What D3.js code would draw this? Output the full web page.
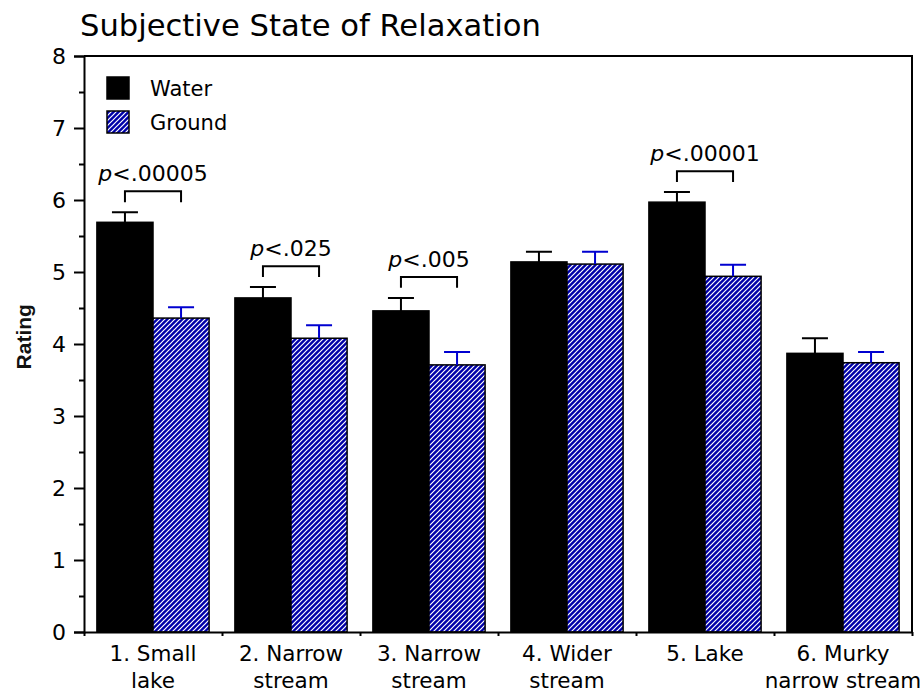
<!DOCTYPE html>
<html>
<head>
<meta charset="utf-8">
<script src="https://cdn.jsdelivr.net/npm/d3@7"></script>
<style>
  body { margin: 0; background: #fff; }
  svg { display: block; font-family: "DejaVu Sans", Verdana, sans-serif; }
</style>
</head>
<body>
<div id="chart"></div>
<script>
// datos
const categories = [["1. Small", "lake"], ["2. Narrow", "stream"], ["3. Narrow", "stream"],
                    ["4. Wider", "stream"], ["5. Lake"], ["6. Murky", "narrow stream"]];
const series = ["Water", "Ground"];
const waterMean = [5.69, 4.64, 4.46, 5.14, 5.97, 3.87];
const waterErr = [0.14, 0.15, 0.18, 0.14, 0.14, 0.21];
const groundMean = [4.36, 4.08, 3.71, 5.11, 4.94, 3.74];
const groundErr = [0.15, 0.18, 0.18, 0.17, 0.16, 0.15];
const sigLabels = ["<.00005", "<.025", "<.005", null, "<.00001", null];
const sigLevel = [6.12, 5.08, 4.93, null, 6.40, null];
const yTicks = [0, 1, 2, 3, 4, 5, 6, 7, 8];

const width = 924, height = 695;
const margin = {top: 56, right: 12, bottom: 63, left: 84};

const svg = d3.select('#chart').append('svg')
    .attr('width', width)
    .attr('height', height);

// patrón de rayas para Ground
const defs = svg.append('defs');
const pat = defs.append('pattern')
    .attr('id', 'hatch')
    .attr('patternUnits', 'userSpaceOnUse')
    .attr('width', 5)
    .attr('height', 5);
pat.append('rect').attr('width', 5).attr('height', 5).attr('fill', '#0000a8');
pat.append('path')
    .attr('d', 'M-1,1 l2,-2 M0,5 l5,-5 M4,6 l2,-2')
    .attr('stroke', '#fff')
    .attr('stroke-width', 1.2);

const x = d3.scaleBand()
    .domain(d3.range(categories.length))
    .range([margin.left, width - margin.right]);

const xInner = d3.scaleBand()
    .domain(series)
    .range([0, x.bandwidth()])
    .paddingOuter(0.23);

const y = d3.scaleLinear()
    .domain([0, 8])
    .range([height - margin.bottom, margin.top]);

const data = categories.map(function(c, i) {
    return [
        {cat: i, key: 'Water', v: waterMean[i], e: waterErr[i]},
        {cat: i, key: 'Ground', v: groundMean[i], e: groundErr[i]}
    ];
});

// título
svg.append('text')
    .attr('x', 80)
    .attr('y', 36)
    .attr('font-size', 30.6)
    .text('Subjective State of Relaxation');

// barras
const groups = svg.selectAll('.grp')
    .data(data)
    .enter().append('g')
    .attr('class', 'grp')
    .attr('transform', function(d, i) { return 'translate(' + x(i) + ',0)'; });

groups.selectAll('rect')
    .data(function(d) { return d; })
    .enter().append('rect')
    .attr('x', function(d) { return xInner(d.key); })
    .attr('y', function(d) { return y(d.v); })
    .attr('width', xInner.bandwidth())
    .attr('height', function(d) { return y(0) - y(d.v); })
    .attr('fill', function(d) { return d.key == 'Water' ? '#000' : 'url(#hatch)'; })
    .attr('stroke', '#000')
    .attr('stroke-width', 1.5);

// barras de error
groups.selectAll('.err')
    .data(function(d) { return d; })
    .enter().append('path')
    .attr('class', 'err')
    .attr('fill', 'none')
    .attr('stroke', function(d) { return d.key == 'Water' ? '#000' : '#0000d0'; })
    .attr('stroke-width', 2)
    .attr('d', function(d) {
        let cx = xInner(d.key) + xInner.bandwidth() / 2;
        let top = y(d.v + d.e);
        return 'M' + cx + ',' + y(d.v) + 'V' + top + 'M' + (cx - 13) + ',' + top + 'H' + (cx + 13);
    });

// corchetes de significación
const legLen = y(0) - y(0.15);
categories.forEach(function(c, i) {
    if (!sigLabels[i]) return;
    let x1 = x(i) + xInner('Water') + xInner.bandwidth() / 2;
    let x2 = x(i) + xInner('Ground') + xInner.bandwidth() / 2;
    let yt = y(sigLevel[i]);
    svg.append('path')
        .attr('fill', 'none')
        .attr('stroke', '#000')
        .attr('stroke-width', 2)
        .attr('d', 'M' + x1 + ',' + (yt + legLen) + 'V' + yt + 'H' + x2 + 'V' + (yt + legLen));
    let t = svg.append('text')
        .attr('x', x(i) + x.bandwidth() / 2)
        .attr('y', yt - 10)
        .attr('text-anchor', 'middle')
        .attr('font-size', 22);
    t.append('tspan').attr('font-style', 'italic').text('p');
    t.append('tspan').text(sigLabels[i]);
});

// eje Y
const yAxis = svg.append('g')
    .attr('transform', 'translate(' + margin.left + ',0)')
    .call(d3.axisLeft(y).tickValues(yTicks).tickSize(10).tickPadding(8));
yAxis.attr('font-size', 22).attr('font-family', '"DejaVu Sans", sans-serif');
yAxis.select('.domain').attr('stroke-width', 2);
yAxis.selectAll('.tick line').attr('stroke-width', 2);

// marcas menores
svg.append('g')
    .attr('transform', 'translate(' + margin.left + ',0)')
    .call(d3.axisLeft(y).tickValues(d3.range(0.5, 8, 1)).tickSize(5).tickFormat(''))
    .call(function(g) { g.select('.domain').remove(); })
    .selectAll('.tick line').attr('stroke-width', 2);

// eje X
const xPos = d3.scaleLinear().domain([0, categories.length]).range([margin.left, width - margin.right]);
const xAxis = svg.append('g')
    .attr('transform', 'translate(0,' + y(0) + ')')
    .call(d3.axisBottom(xPos).tickValues(d3.range(0, categories.length + 1)).tickSize(4).tickSizeOuter(0).tickFormat(''));
xAxis.select('.domain').attr('stroke-width', 2);
xAxis.selectAll('.tick line').attr('stroke-width', 2);

// marco superior y derecho
svg.append('path')
    .attr('fill', 'none')
    .attr('stroke', '#000')
    .attr('stroke-width', 2)
    .attr('d', 'M' + margin.left + ',' + y(8) + 'H' + (width - margin.right) + 'V' + y(0));

// etiquetas de categoría
categories.forEach(function(c, i) {
    let t = svg.append('text')
        .attr('x', x(i) + x.bandwidth() / 2)
        .attr('y', 661)
        .attr('text-anchor', 'middle')
        .attr('font-size', 21.5);
    c.forEach(function(line, j) {
        t.append('tspan')
            .attr('x', x(i) + x.bandwidth() / 2)
            .attr('dy', j == 0 ? 0 : 27)
            .text(line);
    });
});

// título eje Y
svg.append('text')
    .attr('transform', 'translate(31,' + y(4.1) + ') rotate(-90)')
    .attr('text-anchor', 'middle')
    .attr('font-family', '"Liberation Sans", Arial, sans-serif')
    .attr('font-size', 21)
    .attr('font-weight', 'bold')
    .attr('fill', '#111')
    .text('Rating');

// leyenda
const legend = svg.selectAll('.leg')
    .data(series)
    .enter().append('g')
    .attr('class', 'leg')
    .attr('transform', function(d, i) { return 'translate(107,' + (77 + i * 34) + ')'; });
legend.append('rect')
    .attr('width', 22)
    .attr('height', 22)
    .attr('fill', function(d) { return d == 'Water' ? '#000' : 'url(#hatch)'; })
    .attr('stroke', '#000')
    .attr('stroke-width', 1.5);
legend.append('text')
    .attr('x', 43)
    .attr('y', 19)
    .attr('font-size', 21)
    .text(function(d) { return d; });
</script>
</body>
</html>
